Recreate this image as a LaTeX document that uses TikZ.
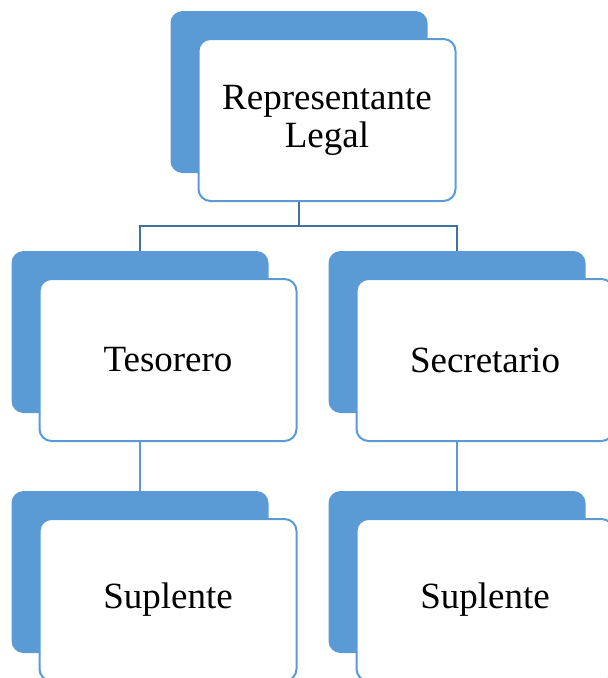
\documentclass[tikz,border=0pt]{standalone}
\usepackage{fontspec}
\setmainfont{Liberation Serif}
\usetikzlibrary{positioning,backgrounds}

\definecolor{boxblue}{HTML}{5B9BD5}
\definecolor{linkblue}{HTML}{41719C}

\tikzset{
  backbox/.style={rectangle,rounded corners=12pt,fill=boxblue,inner sep=0pt,
    minimum width=257pt,minimum height=162pt},
  frontbox/.style={rectangle,rounded corners=12pt,draw=boxblue,line width=2pt,
    fill=white,minimum width=257pt,minimum height=162pt,align=center,
    font=\fontsize{37}{38}\selectfont},
  toplink/.style={draw=linkblue,line width=2pt},
  sublink/.style={draw=boxblue,line width=2pt}
}

\begin{document}
\begin{tikzpicture}[x=1pt,y=-1pt]
\path[use as bounding box,clip] (0,0) rectangle (608,678);

\node (repback) [backbox] at (299,92) {};
\node (rep) [frontbox] at ([shift={(28,28)}]repback) {Representante\\Legal};

\node (tesback) [backbox] at (140,332) {};
\node (tes) [frontbox] at ([shift={(28,28)}]tesback) {Tesorero};
\node (secback) [backbox] at (457,332) {};
\node (sec) [frontbox] at ([shift={(28,28)}]secback) {Secretario};

\node (tessupback) [backbox] at (140,572) {};
\node (tessup) [frontbox] at ([shift={(28,28)}]tessupback) {Suplente};
\node (secsupback) [backbox] at (457,572) {};
\node (secsup) [frontbox] at ([shift={(28,28)}]secsupback) {Suplente};

\coordinate (split) at (299,226);
\begin{scope}[on background layer]
\draw[toplink] (repback) -- (split) -| (tesback);
\draw[toplink] (split) -| (secback);
\draw[sublink] (tesback) -- (tessupback);
\draw[sublink] (secback) -- (secsupback);
\end{scope}
\end{tikzpicture}
\end{document}
